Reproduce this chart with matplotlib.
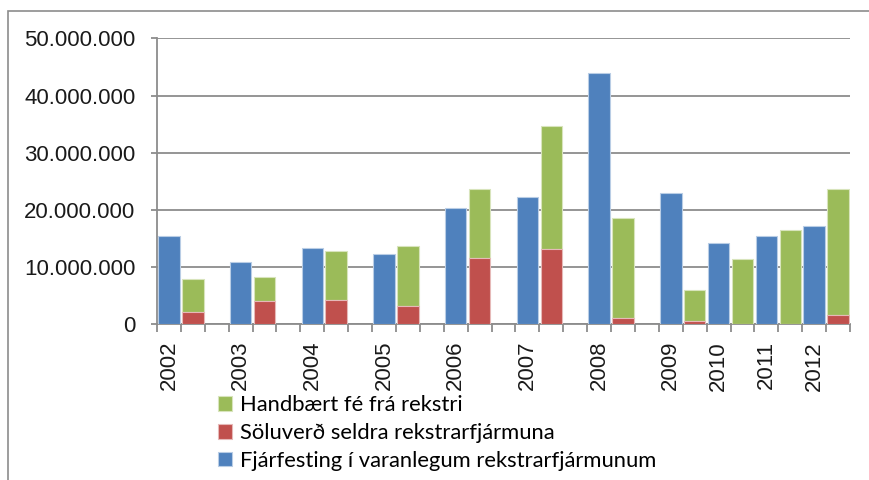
import numpy as np
import matplotlib.pyplot as plt
from matplotlib.patches import Rectangle

# Gogn (milljonir kr.)
years = ["2002", "2003", "2004", "2005", "2006", "2007", "2008",
         "2009", "2010", "2011", "2012"]
fjarfesting = [15.4, 10.95, 13.3, 12.3, 20.3, 22.25, 43.9, 22.9, 14.2, 15.4, 17.2]
soluverd = [2.2, 4.1, 4.3, 3.15, 11.6, 13.2, 1.15, 0.5, 0.0, 0.0, 1.7]
handbaert = [5.67, 4.1, 8.6, 10.55, 12.1, 21.5, 17.45, 5.5, 11.5, 16.4, 21.9]

lbl_handbaert = "Handbært fé frá rekstri"
lbl_soluverd = "Söluverð seldra rekstrarfjármuna"
lbl_fjarfesting = "Fjárfesting í varanlegum rekstrarfjármunum"

# fjoldi flokka (slots) sem hvert ar tekur a asnum
slots_per_year = [3, 3, 3, 3, 3, 3, 3, 2, 2, 2, 2]

BLUE = "#4F81BD"
RED = "#C0504D"
GREEN = "#9BBB59"
GRID = "#8C8C8C"

pos_blue = np.cumsum([0] + slots_per_year[:-1]).astype(float)
pos_green = pos_blue + 1
n_slots = sum(slots_per_year)

scale = 1e6
fj = np.array(fjarfesting) * scale
so = np.array(soluverd) * scale
hb = np.array(handbaert) * scale

fig = plt.figure(figsize=(8.7, 4.8), dpi=100)
ax = fig.add_axes([157 / 870, 1 - 324.3 / 480, (850 - 157) / 870, (324.3 - 38.3) / 480])

w = 0.9
ax.bar(pos_green, hb, bottom=so, width=w, color=GREEN, edgecolor="#D8E4BC",
       linewidth=0.8, label=lbl_handbaert, zorder=3)
ax.bar(pos_green, so, width=w, color=RED, edgecolor="#E6B9B8",
       linewidth=0.8, label=lbl_soluverd, zorder=3)
ax.bar(pos_blue, fj, width=w, color=BLUE, edgecolor="#B9CDE5",
       linewidth=0.8, label=lbl_fjarfesting, zorder=3)

ax.set_xlim(-0.5, n_slots - 0.5)
ax.set_ylim(0, 50e6)
yt = np.arange(0, 50e6 + 1, 10e6)
ax.set_yticks(yt)
ax.set_yticklabels([f"{v:,.0f}".replace(",", ".") for v in yt],
                   fontsize=16, family="Liberation Sans", color="#1a1a1a")
ax.yaxis.grid(True, color=GRID, linewidth=1.3, zorder=0)
ax.set_axisbelow(True)

ax.set_xticks(pos_blue)
ax.set_xticklabels(years, rotation=90, fontsize=16, family="Liberation Sans",
                   color="#1a1a1a", va="top")
ax.set_xticks(np.arange(-0.5, n_slots, 1.0), minor=True)
ax.tick_params(axis="x", which="major", length=0, pad=12)
ax.tick_params(axis="x", which="minor", length=6, width=1.3, color=GRID)
ax.tick_params(axis="y", length=4.5, width=1.3, color=GRID, pad=11)

for s in ["top", "right"]:
    ax.spines[s].set_visible(False)
for s in ["left", "bottom"]:
    ax.spines[s].set_color(GRID)
    ax.spines[s].set_linewidth(1.3)

h, l = ax.get_legend_handles_labels()
fig.legend(h, l, loc="upper left", bbox_to_anchor=(218 / 870, 1 - 395 / 480),
           frameon=False, prop={"family": "Lato", "size": 15.8},
           handlelength=0.65, handleheight=0.65, handletextpad=0.35,
           labelspacing=0.36, borderaxespad=0, borderpad=0)

# rammi utan um myndina
fig.patches.append(Rectangle((8 / 870, -0.1), 2, 1 - 11 / 480 + 0.1,
                             transform=fig.transFigure, fill=False,
                             edgecolor=GRID, linewidth=1.2))

fig.savefig("out.png", dpi=100)
